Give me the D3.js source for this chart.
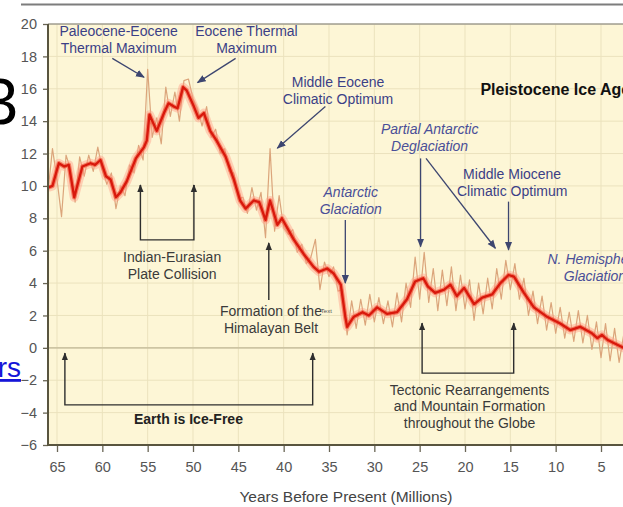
<!DOCTYPE html>
<html>
<head>
<meta charset="utf-8">
<script src="https://cdn.jsdelivr.net/npm/d3@7"></script>
<style>
  body { margin: 0; background: #fff; }
  svg { display: block; font-family: "Liberation Sans", Arial, sans-serif; }
</style>
</head>
<body>
<div id="chart"></div>
<script>
// smoothed temperature curve (red), Ma before present / deg C
const smoothAge = [66.0,65.5,64.8,64.2,63.7,63.1,62.2,61.3,60.8,60.2,59.6,59.1,58.5,58.0,57.3,56.3,55.4,55.1,54.8,54.0,
  53.2,52.7,52.1,51.7,51.1,50.7,49.9,49.4,48.8,48.1,47.4,46.4,45.5,44.8,44.2,43.3,42.7,42.0,41.5,40.7,
  40.2,38.9,37.8,36.7,36.1,35.2,34.5,33.7,33.2,33.0,32.3,31.3,30.6,29.7,28.6,27.5,26.4,25.5,24.6,24.1,
  23.3,22.3,21.6,20.9,20.1,19.0,18.1,17.0,16.1,15.2,14.6,13.5,12.4,10.9,9.5,8.4,7.3,6.0,5.4,4.9,
  4.3,3.6,2.5,1.0];
const smoothTemp = [9.9,10.0,11.4,11.2,11.3,9.3,11.2,11.4,11.3,11.6,10.6,10.4,9.3,9.6,10.3,11.7,12.4,12.8,14.4,13.4,
  14.5,15.1,14.9,14.8,16.1,15.9,14.9,14.2,14.5,13.4,12.8,11.8,10.4,9.1,8.6,9.1,9.0,7.9,9.1,7.6,
  8.0,6.7,5.8,5.0,4.7,4.9,4.6,3.9,1.9,1.3,1.9,2.2,2.0,2.5,2.1,2.2,3.0,4.1,4.3,3.8,
  3.4,3.6,3.9,3.2,3.7,2.7,3.1,3.3,4.0,4.5,4.4,3.4,2.5,1.9,1.5,1.1,1.3,0.9,0.6,0.8,
  0.5,0.3,0.0,-0.3];

// raw (noisy) record, tan line
const rawAge = [66.0,65.5,65.0,64.5,64.0,63.5,63.0,62.5,62.0,61.5,61.0,60.5,60.0,59.5,59.0,58.5,58.0,57.5,57.0,56.5,
  56.0,55.5,55.0,54.5,54.0,53.5,53.0,52.5,52.0,51.5,51.0,50.5,50.0,49.5,49.0,48.5,48.0,47.5,47.0,46.5,
  46.0,45.5,45.0,44.5,44.0,43.5,43.0,42.5,42.0,41.5,41.0,40.5,40.0,39.5,39.0,38.5,38.0,37.5,37.0,36.5,
  36.0,35.5,35.0,34.5,34.0,33.5,33.0,32.5,32.0,31.5,31.0,30.5,30.0,29.5,29.0,28.5,28.0,27.5,27.0,26.5,
  26.0,25.5,25.0,24.5,24.0,23.5,23.0,22.5,22.0,21.5,21.0,20.5,20.0,19.5,19.0,18.5,18.0,17.5,17.0,16.5,
  16.0,15.5,15.0,14.5,14.0,13.5,13.0,12.5,12.0,11.5,11.0,10.5,10.0,9.5,9.0,8.5,8.0,7.5,7.0,6.5,
  6.0,5.5,5.0,4.5,4.0,3.5,3.0,2.5,2.0];
const rawTemp = [9.6,12.3,10.4,8.1,11.9,11.0,9.0,11.8,10.6,11.9,10.9,12.4,11.0,10.1,10.8,8.6,10.0,9.4,11.3,10.8,
  12.5,11.6,17.2,13.0,14.2,12.6,16.1,14.3,15.8,14.0,16.5,16.6,15.4,14.8,13.7,14.9,13.0,13.5,12.0,12.3,
  10.9,10.8,9.2,9.3,8.3,9.9,8.5,9.6,6.8,12.3,7.2,9.4,7.4,7.0,7.3,5.9,6.4,5.2,5.6,6.7,
  3.6,5.3,4.4,5.0,3.5,3.6,0.8,2.9,1.2,3.0,1.4,3.3,1.6,3.1,1.5,2.9,1.3,3.4,1.6,4.0,
  2.5,5.6,3.0,5.9,2.8,4.9,2.3,4.8,2.6,5.0,2.3,4.5,2.4,4.2,1.7,4.0,2.1,4.3,2.4,4.9,
  3.0,5.4,3.6,5.2,3.0,4.3,2.0,3.5,1.5,3.2,1.1,2.8,0.9,2.5,0.6,2.2,0.4,2.3,0.3,2.0,
  -0.1,1.6,-0.6,1.5,-0.8,1.2,-0.9,0.8,-1.2];

const xTicks = [65,60,55,50,45,40,35,30,25,20,15,10,5];
const yTicks = [-6,-4,-2,0,2,4,6,8,10,12,14,16,18,20];

// annotation labels, anchored in data units (age, temp)
const blueLabels = [
  { lines: ["Paleocene-Eocene", "Thermal Maximum"], age: 58.2, temp: 19.25, italic: false },
  { lines: ["Eocene Thermal", "Maximum"], age: 44.1, temp: 19.25, italic: false },
  { lines: ["Middle Eocene", "Climatic Optimum"], age: 34.0, temp: 16.1, italic: false },
  { lines: ["Partial Antarctic", "Deglaciation"], age: 23.9, temp: 13.2, italic: true },
  { lines: ["Middle Miocene", "Climatic Optimum"], age: 14.8, temp: 10.4, italic: false },
  { lines: ["Antarctic", "Glaciation"], age: 32.6, temp: 9.3, italic: true }
];
const blueArrows = [
  { from: [58.9, 17.88], to: [55.4, 16.71] },
  { from: [45.3, 17.88], to: [49.5, 16.38] },
  { from: [35.4, 14.9], to: [40.7, 12.33] },
  { from: [24.9, 11.7], to: [24.9, 6.25] },
  { from: [24.3, 11.7], to: [16.65, 6.15] },
  { from: [15.2, 9.03], to: [15.2, 6.05] },
  { from: [33.2, 7.9], to: [33.2, 4.0] }
];
const grayLabels = [
  { lines: ["Indian-Eurasian", "Plate Collision"], age: 52.3, temp: 5.3, bold: false },
  { lines: ["Formation of the", "Himalayan Belt"], age: 41.4, temp: 1.95, bold: false },
  { lines: ["Earth is Ice-Free"], age: 50.5, temp: -4.7, bold: true },
  { lines: ["Tectonic Rearrangements", "and Mountain Formation", "throughout the Globe"], age: 19.5, temp: -2.9, bold: false }
];
const brackets = [
  { left: 55.8, right: 49.9, bottom: 6.67, top: 10.06 },
  { left: 64.13, right: 36.8, bottom: -3.52, top: -0.33 },
  { left: 24.73, right: 14.63, bottom: -1.56, top: 1.52 }
];
const singleArrows = [ { age: 41.64, from: 2.96, to: 6.48 } ];

const W = 623, H = 507;
const svg = d3.select("#chart").append("svg").attr("width", W).attr("height", H);
svg.append("rect").attr("width", W).attr("height", H).attr("fill", "#fff");

const x = d3.scaleLinear().domain([65, 5]).range([57, 601]);
const y = d3.scaleLinear().domain([-6, 20]).range([445, 24]);
const plotL = 48, plotT = 24, plotB = 445, plotR = 660;

const defs = svg.append("defs");
defs.append("clipPath").attr("id", "page").append("rect")
  .attr("x", 21).attr("y", 0).attr("width", W - 21).attr("height", H);
defs.append("clipPath").attr("id", "plot").append("rect")
  .attr("x", plotL).attr("y", plotT).attr("width", plotR - plotL).attr("height", plotB - plotT);
defs.append("marker").attr("id", "arrBlue").attr("viewBox", "0 0 10 10")
  .attr("refX", 9).attr("refY", 5).attr("markerWidth", 9).attr("markerHeight", 9)
  .attr("markerUnits", "userSpaceOnUse").attr("orient", "auto")
  .append("path").attr("d", "M0,1 L10,5 L0,9 Z").attr("fill", "#3d4670");
defs.append("marker").attr("id", "arrDark").attr("viewBox", "0 0 10 10")
  .attr("refX", 9).attr("refY", 5).attr("markerWidth", 8).attr("markerHeight", 8)
  .attr("markerUnits", "userSpaceOnUse").attr("orient", "auto")
  .append("path").attr("d", "M0,1 L10,5 L0,9 Z").attr("fill", "#2e2e2e");

const g = svg.append("g").attr("clip-path", "url(#page)");

// top rule of the page
g.append("line").attr("x1", 21).attr("x2", W).attr("y1", 4.5).attr("y2", 4.5)
  .attr("stroke", "#7d7d7d").attr("stroke-width", 2);

// plot background + grid
const plot = g.append("g").attr("clip-path", "url(#plot)");
plot.append("rect").attr("x", plotL).attr("y", plotT)
  .attr("width", plotR - plotL).attr("height", plotB - plotT).attr("fill", "#fdf6d6");
plot.selectAll(".vgrid").data(xTicks).enter().append("line")
  .attr("x1", d => x(d)).attr("x2", d => x(d)).attr("y1", plotT).attr("y2", plotB)
  .attr("stroke", "#ebe2bd").attr("stroke-width", 1);
plot.selectAll(".hgrid").data(yTicks).enter().append("line")
  .attr("x1", plotL).attr("x2", plotR).attr("y1", d => y(d)).attr("y2", d => y(d))
  .attr("stroke", d => d === 0 ? "#cdc5a3" : "#ebe2bd")
  .attr("stroke-width", d => d === 0 ? 1.6 : 1);

// series
const raw = d3.zip(rawAge, rawTemp);
const smooth = d3.zip(smoothAge, smoothTemp);
const line = d3.line().x(d => x(d[0])).y(d => y(d[1]));

plot.append("path").datum(raw).attr("d", line).attr("fill", "none")
  .attr("stroke", "#dba57b").attr("stroke-width", 1.2).attr("stroke-linejoin", "round");
plot.append("path").datum(smooth).attr("d", line).attr("fill", "none")
  .attr("stroke", "#ffa08a").attr("stroke-width", 9).attr("stroke-opacity", 0.45)
  .attr("stroke-linejoin", "round");
plot.append("path").datum(smooth).attr("d", line).attr("fill", "none")
  .attr("stroke", "#f24a30").attr("stroke-width", 4.5).attr("stroke-opacity", 0.6)
  .attr("stroke-linejoin", "round");
plot.append("path").datum(smooth).attr("d", line).attr("fill", "none")
  .attr("stroke", "#d8180c").attr("stroke-width", 2.3).attr("stroke-linejoin", "round");

// frame and axes
g.append("line").attr("x1", plotL).attr("x2", W).attr("y1", plotT).attr("y2", plotT)
  .attr("stroke", "#a19e90").attr("stroke-width", 1.5);

const yAxis = g.append("g").attr("transform", `translate(${plotL},0)`)
  .call(d3.axisLeft(y).tickValues(yTicks).tickSize(5).tickPadding(6));
const xAxis = g.append("g").attr("transform", `translate(0,${plotB})`)
  .call(d3.axisBottom(x).tickValues(xTicks).tickSize(7).tickPadding(10));
[yAxis, xAxis].forEach(a => {
  a.select(".domain").remove();
  a.selectAll(".tick line").attr("stroke", "#6a6656").attr("stroke-width", 1.3);
  a.selectAll(".tick text").attr("fill", "#555").style("font-size", "14.5px")
    .style("font-family", "'Liberation Sans', Arial, sans-serif");
});
g.append("line").attr("x1", plotL).attr("x2", plotL).attr("y1", plotT).attr("y2", plotB + 1)
  .attr("stroke", "#59553f").attr("stroke-width", 2);
g.append("line").attr("x1", plotL - 1).attr("x2", W).attr("y1", plotB).attr("y2", plotB)
  .attr("stroke", "#59553f").attr("stroke-width", 2);

g.append("text").attr("x", 346).attr("y", 502).attr("text-anchor", "middle")
  .attr("fill", "#444").style("font-size", "15.5px").text("Years Before Present (Millions)");

// annotations
function multiLine(sel, d, lh) {
  d.lines.forEach((t, i) => sel.append("tspan").attr("x", x(d.age)).attr("dy", i === 0 ? 0 : lh).text(t));
}
g.selectAll(".blab").data(blueLabels).enter().append("text")
  .attr("x", d => x(d.age)).attr("y", d => y(d.temp)).attr("text-anchor", "middle")
  .attr("fill", d => d.italic ? "#4a4f98" : "#3b3f86")
  .style("font-size", "14px").style("font-style", d => d.italic ? "italic" : "normal")
  .each(function (d) { multiLine(d3.select(this), d, 17); });

g.selectAll(".barrow").data(blueArrows).enter().append("line")
  .attr("x1", d => x(d.from[0])).attr("y1", d => y(d.from[1]))
  .attr("x2", d => x(d.to[0])).attr("y2", d => y(d.to[1]))
  .attr("stroke", "#3d4670").attr("stroke-width", 1.3).attr("marker-end", "url(#arrBlue)");

g.append("text").attr("x", x(18.3)).attr("y", y(15.6)).attr("fill", "#111")
  .style("font-size", "16px").style("font-weight", "bold").text("Pleistocene Ice Age");
g.append("text").attr("fill", "#4a4f98").style("font-size", "14px").style("font-style", "italic")
  .call(t => {
    t.append("tspan").attr("x", x(10.9)).attr("y", y(5.19)).text("N. Hemisphere");
    t.append("tspan").attr("x", x(9.1)).attr("y", y(4.14)).text("Glaciation");
  });

g.selectAll(".glab").data(grayLabels).enter().append("text")
  .attr("x", d => x(d.age)).attr("y", d => y(d.temp)).attr("text-anchor", "middle")
  .attr("fill", d => d.bold ? "#222" : "#3a3a3a")
  .style("font-size", "14px").style("font-weight", d => d.bold ? "bold" : "normal")
  .each(function (d) { multiLine(d3.select(this), d, d.lines.length > 2 ? 16.5 : 17); });

// tiny superscript after "the"
g.append("text").attr("x", x(35.9)).attr("y", y(2.15)).attr("fill", "#555")
  .style("font-size", "6px").text("Text");

brackets.forEach(b => {
  const path = d3.path();
  path.moveTo(x(b.left), y(b.top));
  path.lineTo(x(b.left), y(b.bottom));
  path.lineTo(x(b.right), y(b.bottom));
  path.lineTo(x(b.right), y(b.top));
  g.append("path").attr("d", path.toString()).attr("fill", "none")
    .attr("stroke", "#2e2e2e").attr("stroke-width", 1.4);
  [b.left, b.right].forEach(a => {
    g.append("line").attr("x1", x(a)).attr("x2", x(a))
      .attr("y1", y(b.top) + 6).attr("y2", y(b.top))
      .attr("stroke", "#2e2e2e").attr("stroke-width", 1.4).attr("marker-end", "url(#arrDark)");
  });
});
singleArrows.forEach(s => {
  g.append("line").attr("x1", x(s.age)).attr("x2", x(s.age))
    .attr("y1", y(s.from)).attr("y2", y(s.to))
    .attr("stroke", "#2e2e2e").attr("stroke-width", 1.4).attr("marker-end", "url(#arrDark)");
});

// page fragments around the cropped figure
svg.append("text").attr("x", 18).attr("y", 124).attr("text-anchor", "end")
  .attr("fill", "#000").style("font-size", "64px").text("3");
svg.append("text").attr("x", 21).attr("y", 377).attr("text-anchor", "end")
  .attr("fill", "#1515d8").style("font-size", "28px").style("text-decoration", "underline").text("rs");
</script>
</body>
</html>
